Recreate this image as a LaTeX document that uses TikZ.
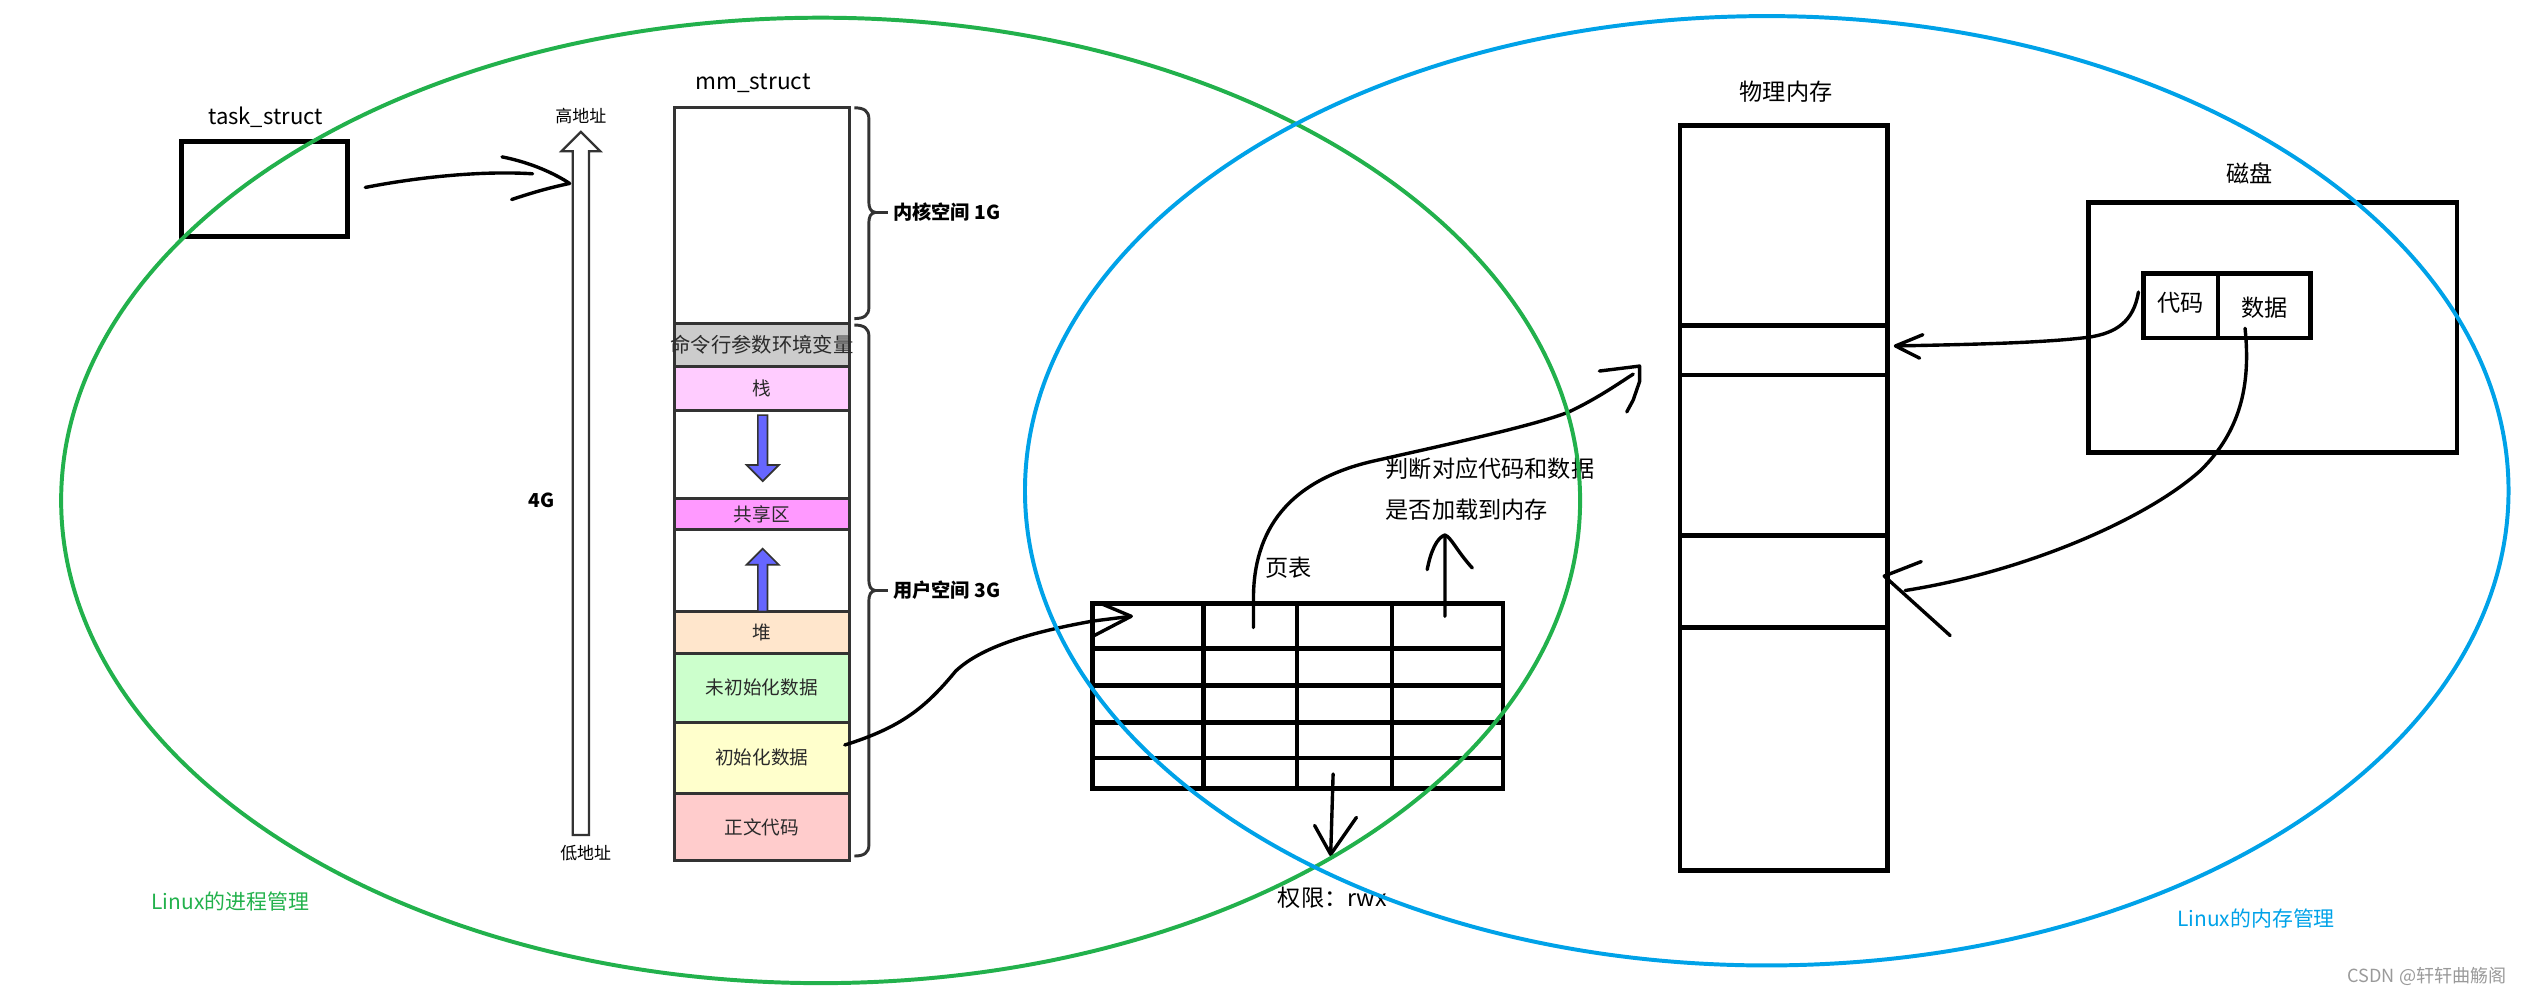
\documentclass[tikz,border=0pt]{standalone}
\usepackage{fontspec}
\setmainfont{Noto Sans CJK SC}
\usetikzlibrary{fit,calc}
\definecolor{pgreen}{RGB}{34,177,76}
\definecolor{pblue}{RGB}{0,162,232}
\definecolor{segline}{HTML}{333333}
\definecolor{segtext}{HTML}{2A2A2A}
\definecolor{cmdgray}{HTML}{CCCCCC}
\definecolor{stackpink}{HTML}{FFCCFF}
\definecolor{sharepink}{HTML}{FF99FF}
\definecolor{heapc}{HTML}{FFE6CC}
\definecolor{bssc}{HTML}{CCFFCC}
\definecolor{datac}{HTML}{FFFFCC}
\definecolor{textc}{HTML}{FFCCCC}
\definecolor{growc}{HTML}{6666FF}
\definecolor{wmgray}{HTML}{9A9A9A}
\newcommand\myfs[1]{\fontsize{#1}{#1}\selectfont}
\newcommand\mybrace[3]{%
  \draw[bracestyle] (531,#1) .. controls (537,#1) and (540,#1+2) .. (540,#1+7) -- (540,#3-7)
     .. controls (540,#3-2.5) and (541,#3-0.5) .. (544,#3)
     .. controls (541,#3+0.5) and (540,#3+2.5) .. (540,#3+7) -- (540,#2-7)
     .. controls (540,#2-2) and (537,#2) .. (531,#2);
  \draw[bracestyle] (544,#3) -- (552,#3);}
\begin{document}
\begin{tikzpicture}[x=0.05cm,y=-0.05cm,
  seg/.style={draw=segline,line width=2.6pt,inner sep=0pt,outer sep=0pt},
  seglbl/.style={inner sep=0pt,text=segtext,font=\myfs{16.5pt}},
  bigbox/.style={draw=black,line width=4.2pt,inner sep=0pt,outer sep=0pt},
  bigline/.style={black,line width=4.2pt},
  tabline/.style={black,line width=4pt},
  hand/.style={black,line width=3pt,line cap=round,line join=round},
  bracestyle/.style={segline,line width=2.6pt},
  growarrow/.style={draw=segline,fill=growc,line width=1.5pt},
  lbl/.style={inner sep=0pt,font=\myfs{20.5pt}},
  ring/.style={line width=3.5pt}]
\useasboundingbox (0,0) rectangle (1568,619);

% ---- task_struct ----
\node[lbl,font=\myfs{19.5pt}] (tasklbl) at (165,73) {task\_struct};
\node[bigbox,fit={(113,88)(216,147)}] (task) {};

% ---- address arrow ----
\draw[segline,line width=2pt,fill=white] (356,519) -- (356,94) -- (349,94) -- (361,82) -- (373,94) -- (366,94) -- (366,519) -- cycle;
\coordinate (addr) at (354,114);
\node[lbl,font=\myfs{15pt}] (high) at (361,72) {高地址};
\node[lbl,font=\myfs{15pt}] (low) at (364,530) {低地址};
\node[lbl,font=\myfs{17pt}\bfseries] (fourg) at (336.5,311) {4G};

\draw[hand] ($(task.east)+(11,-1)$) .. controls (260,110) and (300,106) .. (331,108);
\draw[hand] (312,97.5) .. controls (330,101) and (345,108) .. (addr) .. controls (340,117) and (330,120) .. (318,124);

% ---- mm_struct ----
\node[lbl,font=\myfs{20pt}] (mmlbl) at (468,52) {mm\_struct};
\node[seg,fit={(419,67)(528,201)}] (kern) {};
\node[seg,fill=cmdgray,fit={(419,201)(528,228)}] (cmd) {};
\node[seg,fill=stackpink,fit={(419,228)(528,255)}] (stack) {};
\node[seg,fit={(419,255)(528,310)}] (gapA) {};
\node[seg,fill=sharepink,fit={(419,310)(528,329)}] (share) {};
\node[seg,fit={(419,329)(528,380)}] (gapB) {};
\node[seg,fill=heapc,fit={(419,380)(528,406)}] (heap) {};
\node[seg,fill=bssc,fit={(419,406)(528,449)}] (bss) {};
\node[seg,fill=datac,fit={(419,449)(528,493)}] (init) {};
\node[seg,fill=textc,fit={(419,493)(528,535)}] (code) {};

\node[seglbl,font=\myfs{18pt}] (cmdlbl) at (cmd.center) {命令行参数环境变量};
\node[seglbl] (stacklbl) at (stack.center) {栈};
\node[seglbl] (sharelbl) at (share.center) {共享区};
\node[seglbl] (heaplbl) at (heap.center) {堆};
\node[seglbl] (bsslbl) at (bss.center) {未初始化数据};
\node[seglbl] (initlbl) at (init.center) {初始化数据};
\node[seglbl] (codelbl) at (code.center) {正文代码};

\draw[growarrow] (471,258) -- (477,258) -- (477,289) -- (484,289) -- (474,299) -- (464,289) -- (471,289) -- cycle;
\draw[growarrow] (471,380) -- (471,351) -- (464,351) -- (474,341) -- (484,351) -- (477,351) -- (477,380) -- cycle;

\mybrace{67}{198}{132}
\mybrace{202}{532}{367}
\node[lbl,anchor=west,font=\myfs{17pt}\bfseries] (kl) at (555,132) {内核空间 1G};
\node[lbl,anchor=west,font=\myfs{17pt}\bfseries] (ul) at (555,367) {用户空间 3G};

% ---- page table ----
\node[bigbox,fit={(679,375)(934,490)}] (tab) {};
\foreach \x in {748,806,865} \draw[tabline] (\x,375) -- (\x,490);
\foreach \y in {403,426,449,471} \draw[tabline] (679,\y) -- (934,\y);
\node[lbl] (ptl) at (801,353) {页表};

\coordinate (tabin) at (703,383);
\draw[hand] ($(init.east)+(-3,-8)$) .. controls (560,452) and (575,440) .. (594,417) .. controls (610,402) and (640,393) .. (679,386) -- (tabin);
\draw[hand] (684,375) -- (tabin) -- (680,395);

\coordinate (memin) at (1019,227.5);
\draw[hand] ($(tab.north west)+(100,15)$) -- (779,372) .. controls (779,330) and (800,298) .. (856,286) .. controls (905,275) and (955,264) .. (975,256) .. controls (992,248) and (1005,239) .. (1015,232.5);
\draw[hand] (994,230.6) -- (memin) -- (1019,237) -- (1015,248.6) -- (1011,256);

\node[lbl,anchor=west] (q1) at (861,291) {判断对应代码和数据};
\node[lbl,anchor=west] (q2) at (861,317) {是否加载到内存};

\coordinate (uptip) at (898,332.5);
\draw[hand] ($(tab.north east)+(-36,8)$) -- (uptip);
\draw[hand] (887,354) .. controls (889,343) and (893,334) .. (uptip) .. controls (902,334) and (905,342) .. (915,353);

\coordinate (dntip) at (827,531);
\draw[hand] ($(tab.south)+(22,-9)$) -- (dntip);
\draw[hand] (817,513) -- (dntip) -- (843,508);
\node[lbl,anchor=west] (perm) at (794,558) {权限：rwx};

% ---- physical memory ----
\node[lbl] (memlbl) at (1110,57) {物理内存};
\node[bigbox,fit={(1044,78)(1173,541)}] (mem) {};
\foreach \y in {202.5,233,333,390} \draw[bigline] (1044,\y) -- (1173,\y);

% ---- disk ----
\node[lbl] (disklbl) at (1398,108) {磁盘};
\node[bigbox,fit={(1298,126)(1527,281)}] (disk) {};
\node[bigbox,fit={(1332,170)(1378.5,210)}] (dcode) {};
\node[bigbox,fit={(1378.5,170)(1436,210)}] (ddata) {};
\node[lbl] (dcodelbl) at ($(dcode.center)+(0,-2)$) {代码};
\node[lbl] (ddatalbl) at ($(ddata.center)+(0,1)$) {数据};

\coordinate (slotAin) at (1178,215);
\draw[hand] ($(dcode.west)+(-3,-8.5)$) .. controls (1326,200) and (1315,207) .. (1298,209.6) .. controls (1270,213) and (1230,214) .. (slotAin);
\draw[hand] (1195,208) -- (slotAin) -- (1193,222.6);

\coordinate (slotBin) at (1171,358);
\draw[hand] ($(ddata.south)+(-12,-6)$) .. controls (1399,240) and (1392,268) .. (1368,292) .. controls (1335,322) and (1260,355) .. (1184,367);
\draw[hand] (1194,349) -- (slotBin) -- (1212,395);

% ---- rings ----
\draw[ring,pgreen] (510,311) ellipse [x radius=472, y radius=300];
\draw[ring,pblue] (1098,305) ellipse [x radius=461, y radius=295];

\node[lbl,anchor=west,text=pgreen,font=\myfs{18.5pt}] (pmlbl) at (94,560) {Linux的进程管理};
\node[lbl,anchor=west,text=pblue,font=\myfs{18.5pt}] (mmgrlbl) at (1353,571) {Linux的内存管理};
\node[lbl,anchor=east,text=wmgray,font=\myfs{16pt}] (wm) at (1558,607) {CSDN @轩轩曲觞阁};
\end{tikzpicture}
\end{document}
